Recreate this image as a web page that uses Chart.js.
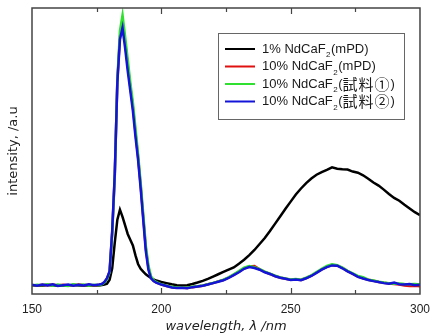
<!DOCTYPE html>
<html>
<head>
  <script src="https://cdn.jsdelivr.net/npm/chart.js"></script>
  <style>
    html, body { margin: 0; padding: 0; background: #fff; }
    #wrap { width: 430px; height: 333px; }
  </style>
</head>
<body>
  <div id="wrap"><canvas id="spec" width="430" height="333"></canvas></div>
  <script>
    // wavelength (nm), finer sampling around the 185 nm peak
    const wavelength = [
      150,152,154,156,158,160,162,164,166,168,170,172,174,176,
      177,178,179,180,181,182,183,184,185,186,187,188,189,190,191,192,193,194,195,196,197,198,
      200,202,204,206,208,210,212,214,216,218,220,222,224,226,228,230,232,234,236,238,240,
      242,244,246,248,250,252,254,256,258,260,262,264,266,268,270,272,274,276,278,280,
      282,284,286,288,290,292,294,296,298,300
    ];

    const seriesLabels = ['1% NdCaF₂(mPD)', '10% NdCaF₂(mPD)', '10% NdCaF₂(試料①)', '10% NdCaF₂(試料②)'];
    const seriesColors = ['#000000', '#e01010', '#30e030', '#1414d8'];

    const nd1_mPD = [
      3.0,3.1,2.9,3.2,3.0,3.1,2.9,3.0,3.2,3.0,3.1,2.9,3.1,3.0,
      3.1,3.3,3.6,5,9,18,26,29.5,27,24,21,19,17,13.5,10.5,8.8,7.8,6.9,6.2,5.6,5.1,4.7,
      4.2,3.8,3.4,3.1,3.0,3.1,3.5,4.0,4.6,5.3,6.1,6.9,7.7,8.5,9.3,10.6,12.0,13.6,15.4,17.5,19.6,
      22.0,24.6,27.2,29.8,32.3,34.8,36.9,38.8,40.4,41.7,42.6,43.4,44.3,43.8,43.6,43.5,42.8,42.4,41.5,40.3,
      39.0,37.9,36.5,35.0,33.6,32.6,31.2,29.9,28.6,27.6
    ];
    const nd10_mPD = [
      3.1,3.0,3.2,3.1,3.3,3.0,3.2,3.1,3.0,3.3,3.1,3.2,3.0,3.2,
      3.5,4.1,5.4,7.8,21.5,41.5,74.5,90,95,88,80,72.5,65.5,56.5,48,38,27,16,9.2,5.8,4.6,4.1,
      3.3,2.8,2.4,2.2,2.2,2.1,2.4,2.6,2.9,3.4,3.8,4.4,4.9,5.7,6.7,7.8,8.9,9.6,9.8,8.6,7.7,
      7.0,6.3,5.7,5.3,5.0,5.1,4.9,5.6,6.4,7.5,8.6,9.5,10.1,9.9,9.1,8.0,7.0,6.1,5.5,5.0,
      4.6,4.2,3.9,3.7,3.5,3.3,3.0,2.8,2.9,2.7
    ];
    const nd10_s1 = [
      3.0,3.2,3.1,3.4,2.9,3.3,3.0,2.8,3.4,3.1,3.3,2.9,3.2,3.1,
      3.4,4.0,5.2,7.5,21,41,75,92,97.5,90,82,74,67,58,49,39,28,17,10,6.2,4.8,4.2,
      3.4,2.9,2.5,2.3,2.3,2.2,2.5,2.7,3.0,3.4,3.9,4.4,5.0,5.8,6.9,8.0,9.2,9.8,9.4,8.7,7.8,
      7.1,6.4,5.8,5.4,5.1,5.2,5.0,5.7,6.5,7.7,8.8,9.8,10.4,10.1,9.2,8.1,7.2,6.3,5.9,5.0,
      4.7,4.3,4.0,3.8,3.6,3.7,3.5,3.4,3.5,3.3
    ];
    const nd10_s2 = [
      3.2,2.9,3.3,3.0,3.4,2.8,3.1,3.3,2.9,3.2,3.0,3.4,3.1,3.3,
      3.5,4.2,5.5,8,22,42,74,89,93,86,78,71,64,55,47,37,26,15,8.5,5.5,4.5,4.0,
      3.3,2.8,2.3,2.1,2.2,2.0,2.4,2.6,2.9,3.3,3.8,4.3,4.8,5.6,6.6,7.6,8.8,9.4,9.1,8.5,7.6,
      7.0,6.2,5.7,5.3,4.9,5.1,4.8,5.5,6.3,7.4,8.5,9.4,10.0,9.9,9.0,7.9,7.0,6.0,5.4,4.9,
      4.5,4.2,3.8,3.6,4.0,3.4,3.3,3.5,3.1,3.2
    ];
    const xTicks = [150, 200, 250, 300];
    const xMinorTicks = [175, 200, 225, 250, 275];

    const allSeries = [nd1_mPD, nd10_mPD, nd10_s1, nd10_s2];

    const latinFont = '13px "Liberation Sans", Arial, sans-serif';
    const cjkFont = '15px "Noto Sans CJK JP", sans-serif';
    const subFont = '8px "Liberation Sans", Arial, sans-serif';

    // draws a legend label: latin runs, wide CJK runs and a lowered subscript 2
    function drawLabel(ctx, text, x, y) {
      for (const ch of text) {
        if (ch === '₂') {
          ctx.font = subFont;
          ctx.fillText('2', x + 0.5, y + 6);
          x += ctx.measureText('2').width + 1;
          continue;
        }
        ctx.font = ch.charCodeAt(0) >= 0x2400 ? cjkFont : latinFont;
        ctx.fillText(ch, x, y);
        x += ctx.measureText(ch).width + (ch.charCodeAt(0) >= 0x2400 ? 1 : 0);
      }
    }

    // frame, inward ticks and boxed legend
    const decorPlugin = {
      id: 'decor',
      afterDraw(chart) {
        const ctx = chart.ctx;
        const a = chart.chartArea;
        const xs = chart.scales.x;
        ctx.save();
        ctx.strokeStyle = '#444';
        ctx.lineWidth = 1.5;
        ctx.strokeRect(a.left, a.top, a.right - a.left, a.bottom - a.top);
        ctx.lineWidth = 1.2;
        xMinorTicks.forEach(v => {
          const px = Math.round(xs.getPixelForValue(v)) + 0.5;
          const len = v % 50 === 0 ? 6 : 4;
          ctx.beginPath();
          ctx.moveTo(px, a.bottom); ctx.lineTo(px, a.bottom - len);
          ctx.moveTo(px, a.top); ctx.lineTo(px, a.top + len);
          ctx.stroke();
        });

        // legend box
        const bx = 218.5, by = 33.5, bw = 186, bh = 86;
        ctx.fillStyle = '#fff';
        ctx.fillRect(bx, by, bw, bh);
        ctx.strokeStyle = '#666';
        ctx.lineWidth = 1;
        ctx.strokeRect(bx, by, bw, bh);
        seriesLabels.forEach((lab, i) => {
          const y = 49 + i * 17.5;
          ctx.strokeStyle = seriesColors[i];
          ctx.lineWidth = 2;
          ctx.beginPath();
          ctx.moveTo(225, y); ctx.lineTo(255, y);
          ctx.stroke();
          ctx.fillStyle = '#1a1a1a';
          ctx.textBaseline = 'middle';
          drawLabel(ctx, lab, 262, y);
        });
        ctx.restore();
      }
    };

    new Chart(document.getElementById('spec'), {
      type: 'line',
      data: {
        datasets: allSeries.map((s, i) => ({
          label: seriesLabels[i],
          data: s.map((v, k) => ({ x: wavelength[k], y: v })),
          borderColor: seriesColors[i],
          borderWidth: 2.5,
          pointRadius: 0,
          tension: 0,
          fill: false,
          order: allSeries.length - i   // blue on top, black at the bottom
        }))
      },
      options: {
        responsive: false,
        animation: false,
        layout: { padding: { top: 8, right: 9, left: 6, bottom: 0 } },
        plugins: { legend: { display: false }, tooltip: { enabled: false } },
        scales: {
          x: {
            type: 'linear',
            min: 150, max: 300,
            afterBuildTicks: s => { s.ticks = xTicks.map(v => ({ value: v })); },
            ticks: { color: '#222', font: { size: 12, family: 'Liberation Sans' }, padding: 0, maxRotation: 0 },
            grid: { display: false },
            border: { display: false },
            title: {
              display: true,
              text: 'wavelength, λ /nm',
              color: '#222',
              font: { size: 13, style: 'italic', family: 'DejaVu Sans', lineHeight: 1.0 },
              padding: { top: 0, bottom: 0 }
            },
            afterFit: s => { s.height = 39; }
          },
          y: {
            min: 0, max: 100,
            ticks: { display: false },
            grid: { display: false },
            border: { display: false },
            title: {
              display: true,
              text: 'intensity, /a.u',
              color: '#222',
              font: { size: 13, family: 'DejaVu Sans' },
              padding: 0
            },
            afterFit: s => { s.width = 26; }
          }
        }
      },
      plugins: [decorPlugin]
    });
  </script>
</body>
</html>
